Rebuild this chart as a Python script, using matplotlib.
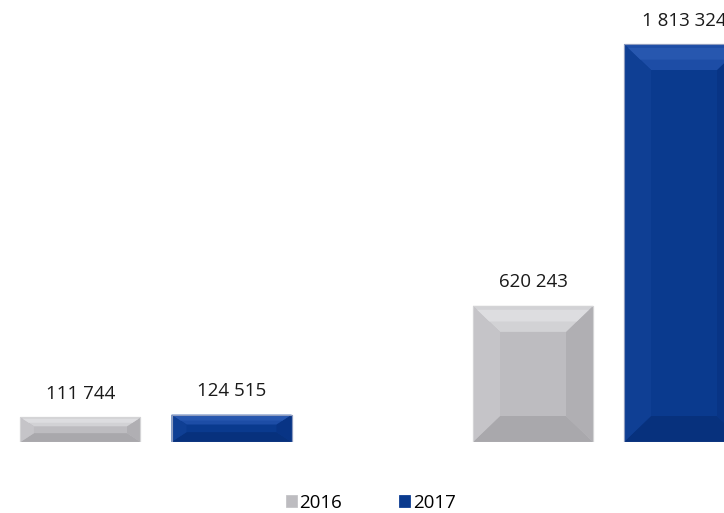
import matplotlib
matplotlib.use("Agg")
import matplotlib.pyplot as plt
from matplotlib.patches import Polygon, Patch
import numpy as np

# ---- data ----
categories = ["A", "B"]
series_names = ["2016", "2017"]
values_2016 = [111744, 620243]
values_2017 = [124515, 1813324]

# ---- style ----
plt.rcParams['font.family'] = ['Open Sans', 'DejaVu Sans']
W, H = 724, 513
fig = plt.figure(figsize=(W / 100, H / 100), dpi=100)
base_px = 442
ax = fig.add_axes([0, (H - base_px) / H, 1, base_px / H])
ax.set_axis_off()

grp_px = 452.5
c0_px = 156
ax.set_xlim(-c0_px / grp_px, (W - c0_px) / grp_px)
ax.set_ylim(0, max(values_2017) * base_px / 398)

offset = 75.5 / grp_px
width = 120 / grp_px

schemes = {
    "2016": dict(face="#BDBCC0", top="#D2D2D5", topin="#DDDDE0", left="#C5C4C8",
                 right="#B0AFB3", bottom="#A9A8AC", edge="#D4D4D6"),
    "2017": dict(face="#0A3A8E", top="#1D4DA6", topin="#2757AF", left="#0F3F94",
                 right="#083485", bottom="#07317D", edge="#8E9CBF"),
}

x = np.arange(len(categories))
bars = {}
bars["2016"] = ax.bar(x - offset, values_2016, width, color=schemes["2016"]["face"],
                      edgecolor=schemes["2016"]["edge"], linewidth=0.8, zorder=2)
bars["2017"] = ax.bar(x + offset, values_2017, width, color=schemes["2017"]["face"],
                      edgecolor=schemes["2017"]["edge"], linewidth=0.8, zorder=2)

inv = ax.transData.inverted()
for name, cont in bars.items():
    sc = schemes[name]
    for p in cont.patches:
        x0, y0 = p.get_x(), p.get_y()
        x1, y1 = x0 + p.get_width(), y0 + p.get_height()
        (X0, Y0) = ax.transData.transform((x0, y0))
        (X1, Y1) = ax.transData.transform((x1, y1))
        h = Y1 - Y0
        bx = min(27, 0.55 * h)
        by = min(26, 0.36 * h)
        outer = [(X0, Y0), (X1, Y0), (X1, Y1), (X0, Y1)]
        inner = [(X0 + bx, Y0 + by), (X1 - bx, Y0 + by), (X1 - bx, Y1 - by), (X0 + bx, Y1 - by)]
        quads = {
            "bottom": [outer[0], outer[1], inner[1], inner[0]],
            "right": [outer[1], outer[2], inner[2], inner[1]],
            "top": [outer[2], outer[3], inner[3], inner[2]],
            "left": [outer[3], outer[0], inner[0], inner[3]],
        }
        for side, q in quads.items():
            pts = inv.transform(np.array(q))
            ax.add_patch(Polygon(pts, closed=True, facecolor=sc[side], edgecolor='none', zorder=3))
        # lighter band on top bevel
        t = 0.15
        q2 = [(X0 + bx * t, Y1 - by * t), (X1 - bx * t, Y1 - by * t),
              (X1 - bx * 0.6, Y1 - by * 0.6), (X0 + bx * 0.6, Y1 - by * 0.6)]
        ax.add_patch(Polygon(inv.transform(np.array(q2)), closed=True,
                             facecolor=sc["topin"], edgecolor='none', zorder=3))
        # outline
        ax.add_patch(Polygon(inv.transform(np.array(outer)), closed=True, facecolor='none',
                             edgecolor=sc["edge"], linewidth=0.8, zorder=4))
        ax.annotate(f"{int(p.get_height()):,}".replace(",", " "),
                    (x0 + p.get_width() / 2, y1), xytext=(0, 23.5 * 72 / 100),
                    textcoords="offset points", ha="center", va="center",
                    fontsize=13.5, color="#1A1A1A", annotation_clip=False)

handles = [Patch(facecolor=schemes[n]["face"], edgecolor=schemes[n]["left"], linewidth=0.6)
           for n in series_names]
fig.legend(handles, series_names, loc="center", bbox_to_anchor=(370.5 / W, 1 - 503 / H),
           ncol=2, frameon=False, fontsize=13.5, handlelength=0.6, handleheight=0.6,
           handletextpad=0.15, columnspacing=3.0, borderpad=0, borderaxespad=0)

fig.savefig("out.png", dpi=100)
